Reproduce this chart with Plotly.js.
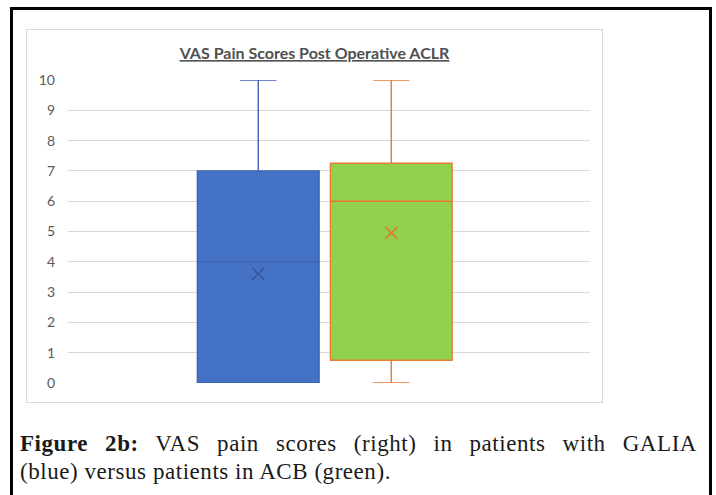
<!DOCTYPE html>
<html><head><meta charset="utf-8">
<script src="https://cdn.plot.ly/plotly-3.0.1.min.js"></script>
<style>
html,body{margin:0;padding:0;background:#fff;width:716px;height:495px;overflow:hidden;}
#frame{position:absolute;left:10px;top:7px;width:696px;height:500px;border:3px solid #000;}
#chartbox{position:absolute;left:26px;top:29px;width:575px;height:372px;border:1px solid #d9d9d9;background:#fff;}
#chart{width:575px;height:372px;}
.cap{position:absolute;left:20px;width:677px;font-family:"Liberation Serif",serif;font-size:23px;letter-spacing:0.55px;line-height:28px;color:#1a1a1a;}
#cap1{top:430px;text-align:justify;text-align-last:justify;}
#cap2{top:458px;text-align:left;white-space:nowrap;}
</style>
</head><body>
<div id="frame"></div>
<div id="chartbox"><div id="chart"></div></div>
<div class="cap" id="cap1"><b>Figure 2b:</b> VAS pain scores (right) in patients with GALIA</div>
<div class="cap" id="cap2">(blue) versus patients in ACB (green).</div>
<script>
const groups = ['GALIA', 'ACB'];
const lowerWhisker = [0, 0];
const q1 = [0, 0.75];
const median = [4, 6];
const q3 = [7, 7.25];
const upperWhisker = [10, 10];
const means = [3.6, 4.95];
const yTickVals = [0, 1, 2, 3, 4, 5, 6, 7, 8, 9, 10];
const chartTitle = 'VAS Pain Scores Post Operative ACLR';

const fillColors = ['#4472C4', '#92D050'];
const lineColors = ['#3b64b2', '#E97B33'];
const meanColors = ['#37599e', '#E0762E'];

const traces = [];
groups.forEach((g, i) => {
  traces.push({
    type: 'box', name: g, x: [g],
    q1: [q1[i]], median: [median[i]], q3: [q3[i]],
    lowerfence: [lowerWhisker[i]], upperfence: [upperWhisker[i]],
    fillcolor: fillColors[i],
    line: {color: lineColors[i], width: 1.4},
    width: 0.915, whiskerwidth: 0.3,
    boxpoints: false, hoverinfo: 'skip', showlegend: false
  });
});
groups.forEach((g, i) => {
  traces.push({
    type: 'scatter', mode: 'markers', x: [g], y: [means[i]],
    marker: {symbol: 'x-thin', size: 12, color: meanColors[i], line: {width: 1.6, color: meanColors[i]}},
    hoverinfo: 'skip', showlegend: false
  });
});

const layout = {
  width: 575, height: 372,
  margin: {l: 41, r: 12, t: 50, b: 19, pad: 0},
  paper_bgcolor: '#fff', plot_bgcolor: '#fff',
  showlegend: false,
  title: {
    text: chartTitle, xref: 'container', x: 0.5, xanchor: 'center',
    yref: 'container', y: 0.937, yanchor: 'middle',
    font: {family: 'Lato, "Open Sans", sans-serif', size: 16, color: '#505050', weight: 'bold', lineposition: 'under'}
  },
  xaxis: {
    type: 'category', range: [-1.43, 2.494],
    showticklabels: false, showgrid: false, zeroline: false, showline: false, ticks: ''
  },
  yaxis: {
    range: [0, 10], tickvals: yTickVals, ticktext: yTickVals.map(String),
    showgrid: true, gridcolor: '#d9d9d9', gridwidth: 1,
    zeroline: false, showline: false, ticks: '',
    ticklabelstandoff: 12,
    tickfont: {family: 'Lato, "Open Sans", sans-serif', size: 14, color: '#595959'}
  }
};
Plotly.newPlot('chart', traces, layout, {staticPlot: true, displayModeBar: false});
</script>
</body></html>
